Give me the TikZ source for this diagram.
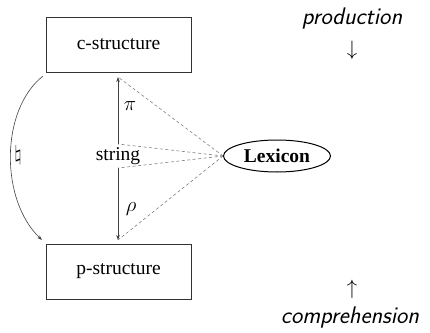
\documentclass[tikz,border=0pt]{standalone}
\usepackage{fontspec}
\setmainfont{Liberation Serif}
\usetikzlibrary{arrows.meta,shapes.geometric}
\begin{document}
\begin{tikzpicture}[x=1pt,y=-1pt,
  line width=0.6pt,
  box/.style={draw=black!80, minimum width=145pt, minimum height=55pt, inner sep=0pt, font=\fontsize{19.5}{22}\selectfont},
  lbl/.style={inner sep=0pt, font=\fontsize{19.5}{22}\selectfont},
  mapar/.style={draw=black!75, -{Stealth[length=5pt,width=3.5pt]}},
  lexlink/.style={draw=black!50, dash pattern=on 3pt off 2.5pt},
  side/.style={inner sep=0pt, font=\fontsize{24}{28}\selectfont\sffamily\itshape}]
\useasboundingbox (0,0) rectangle (430,332);
\node[box] (c) at (118.5,44.5) {c-structure};
\node[box] (p) at (118.5,271.5) {p-structure};
\node[lbl, minimum height=24pt] (str) at (118,156) {string};
\node[draw=black, line width=1pt, ellipse, minimum width=107pt, minimum height=32pt, inner sep=0pt,
  font=\fontsize{19.5}{22}\selectfont\bfseries] (lex) at (277,156) {Lexicon};
\coordinate (ctip) at (118,77);
\coordinate (ptip) at (118,240);
\coordinate (stop) at (118,144);
\coordinate (sbot) at (118,168);
\draw[mapar] (stop) -- (ctip);
\draw[mapar] (sbot) -- (ptip);
\node[lbl] (pi) at (130,106) {$\pi$};
\node[lbl] (rho) at (131,209) {$\rho$};
\draw[lexlink] (lex.west) -- (ctip);
\draw[lexlink] (lex.west) -- (stop);
\draw[lexlink] (lex.west) -- (sbot);
\draw[lexlink] (lex.west) -- (ptip);
\coordinate (cs) at (43,76);
\coordinate (pe) at (42,240);
\draw[mapar] (cs) .. controls (0,110) and (0,200) .. (pe);
\node[lbl] (nat) at (18,155) {$\natural$};
\node[side] (prod) at (352,19) {production};
\node[lbl] (darr) at (352,50) {$\downarrow$};
\node[lbl] (uarr) at (352,289) {$\uparrow$};
\node[side] (comp) at (350,318) {comprehension};
\end{tikzpicture}
\end{document}
